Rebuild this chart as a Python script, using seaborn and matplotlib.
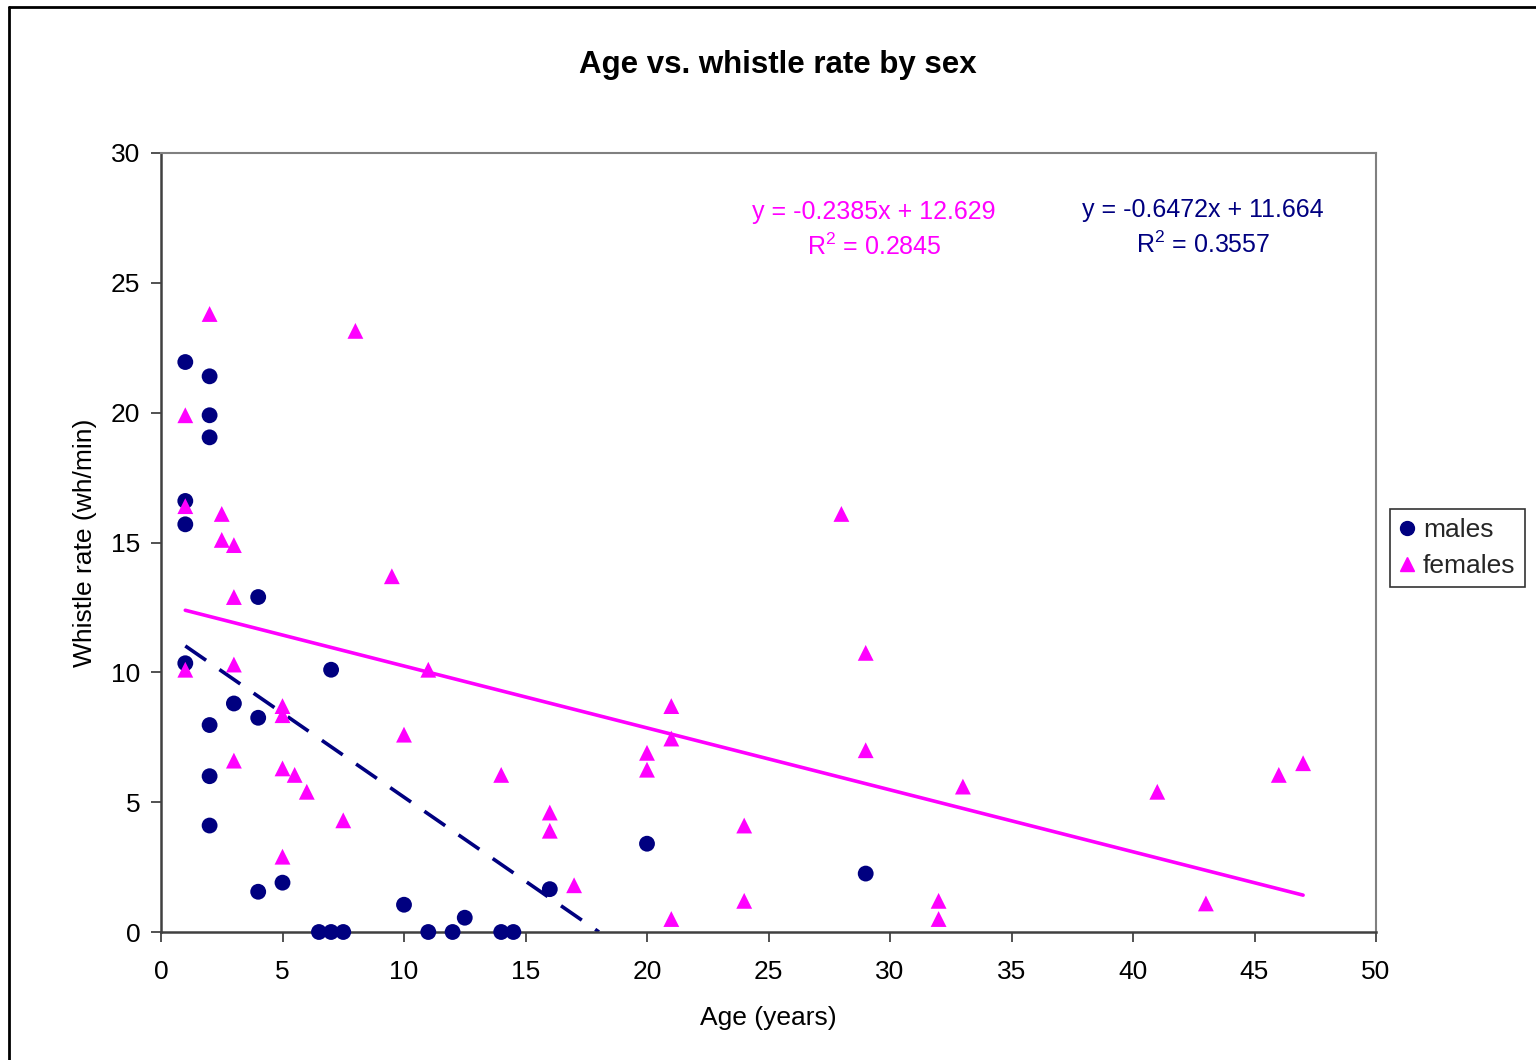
import numpy as np
import pandas as pd
import matplotlib
matplotlib.use("Agg")
import matplotlib.pyplot as plt
import seaborn as sns
from matplotlib.lines import Line2D

# ---- data ----
male_age = [1, 2, 2, 2, 1, 1, 4, 1, 7, 3, 4, 2, 2, 2, 4, 5, 6.5, 7, 7.5, 10,
            11, 12, 12.5, 14, 14.5, 16, 20, 29]
male_rate = [21.95, 21.4, 19.9, 19.05, 16.6, 15.7, 12.9, 10.35, 10.1, 8.8, 8.25,
             7.97, 6.0, 4.1, 1.55, 1.9, 0, 0, 0, 1.05, 0, 0, 0.55, 0, 0, 1.65,
             3.4, 2.25]
female_age = [2, 8, 1, 1, 2.5, 2.5, 3, 3, 9.5, 3, 1, 11, 5, 5, 10, 3, 5, 5.5, 6,
              7.5, 5, 14, 16, 16, 17, 20, 20, 21, 21, 21, 24, 24, 28, 29, 29, 32,
              32, 33, 41, 43, 46, 47]
female_rate = [23.8, 23.15, 19.9, 16.4, 16.1, 15.1, 14.9, 12.9, 13.7, 10.3, 10.1,
               10.1, 8.7, 8.35, 7.6, 6.6, 6.3, 6.05, 5.4, 4.3, 2.9, 6.05, 4.6, 3.9,
               1.8, 6.9, 6.25, 8.7, 7.45, 0.5, 4.1, 1.2, 16.1, 10.75, 7.0, 1.2, 0.5,
               5.6, 5.4, 1.1, 6.05, 6.5]
# trendline coefficients shown on chart
male_slope, male_int = -0.6472, 11.664
female_slope, female_int = -0.2385, 12.629
male_r2, female_r2 = 0.3557, 0.2845

xticks = list(range(0, 51, 5))
yticks = list(range(0, 31, 5))

NAVY = "#000080"
MAG = "#FF00FF"

df = pd.DataFrame({
    "age": male_age + female_age,
    "rate": male_rate + female_rate,
    "sex": ["males"] * len(male_age) + ["females"] * len(female_age),
})

sns.set_theme(style="white")
plt.rcParams["font.family"] = ["Liberation Sans", "DejaVu Sans"]
plt.rcParams["mathtext.fontset"] = "custom"
plt.rcParams["mathtext.rm"] = "Liberation Sans"

fig = plt.figure(figsize=(15.36, 10.6), dpi=100)
ax = fig.add_axes([161 / 1536, 1 - 932 / 1060, (1376 - 161) / 1536, (932 - 153) / 1060])

sns.scatterplot(data=df, x="age", y="rate", hue="sex", style="sex",
                palette={"males": NAVY, "females": MAG},
                markers={"males": "o", "females": "^"},
                s=130, linewidth=0, ax=ax, legend=False, zorder=3, clip_on=False)

# trendlines
xf = np.array([min(female_age), max(female_age)])
ax.plot(xf, female_slope * xf + female_int, color=MAG, lw=2.6, zorder=2,
        solid_capstyle="round")
xm = np.array([min(male_age), -male_int / male_slope])
ax.plot(xm, male_slope * xm + male_int, color=NAVY, lw=2.6, zorder=2,
        dashes=(7, 4.5))

ax.set_xlim(0, 50)
ax.set_ylim(0, 30)
ax.set_xticks(xticks)
ax.set_yticks(yticks)
ax.tick_params(axis="both", which="major", direction="out", length=7, width=1.2,
               color="#333333", labelsize=19, labelcolor="black",
               bottom=True, left=True)
ax.tick_params(axis="x", pad=13)
ax.tick_params(axis="y", pad=8)
for side in ["top", "right"]:
    ax.spines[side].set_color("#808080")
    ax.spines[side].set_linewidth(1.5)
for side in ["bottom", "left"]:
    ax.spines[side].set_color("#404040")
    ax.spines[side].set_linewidth(1.8)
ax.grid(False)

ax.set_xlabel("Age (years)", fontsize=19, labelpad=16, color="black")
ax.set_ylabel("Whistle rate (wh/min)", fontsize=19, labelpad=10, color="black")

fig.text(778 / 1536, 1 - 65 / 1060, "Age vs. whistle rate by sex", ha="center",
         va="center", fontsize=22.5, fontweight="bold", color="black")

# equations
fig.text(874 / 1536, 1 - 212 / 1060, "y = -0.2385x + 12.629", ha="center",
         va="center", fontsize=18, color=MAG)
fig.text(874 / 1536, 1 - 247 / 1060, r"R$^2$ = " + f"{female_r2:.4f}", ha="center",
         va="center", fontsize=18, color=MAG)
fig.text(1203 / 1536, 1 - 210 / 1060, "y = -0.6472x + 11.664", ha="center",
         va="center", fontsize=18, color=NAVY)
fig.text(1203 / 1536, 1 - 245 / 1060, r"R$^2$ = " + f"{male_r2:.4f}", ha="center",
         va="center", fontsize=18, color=NAVY)

# legend
handles = [Line2D([], [], marker="o", ls="", color=NAVY, markersize=10),
           Line2D([], [], marker="^", ls="", color=MAG, markersize=10)]
leg = fig.legend(handles, ["males", "females"], loc="center left",
                 bbox_to_anchor=(1390 / 1536, 1 - 548 / 1060), fontsize=19,
                 frameon=True, fancybox=False, edgecolor="black",
                 handlelength=0.6, handletextpad=0.3, borderpad=0.35,
                 labelspacing=0.45, borderaxespad=0)
leg.get_frame().set_linewidth(1.2)

# outer chart border
fig.add_artist(Line2D([9 / 1536, 9 / 1536], [0, 1 - 7 / 1060], color="black",
                      lw=2, transform=fig.transFigure))
fig.add_artist(Line2D([9 / 1536, 1], [1 - 7 / 1060, 1 - 7 / 1060], color="black",
                      lw=2, transform=fig.transFigure))

fig.savefig("out.png", dpi=100, facecolor="white")
